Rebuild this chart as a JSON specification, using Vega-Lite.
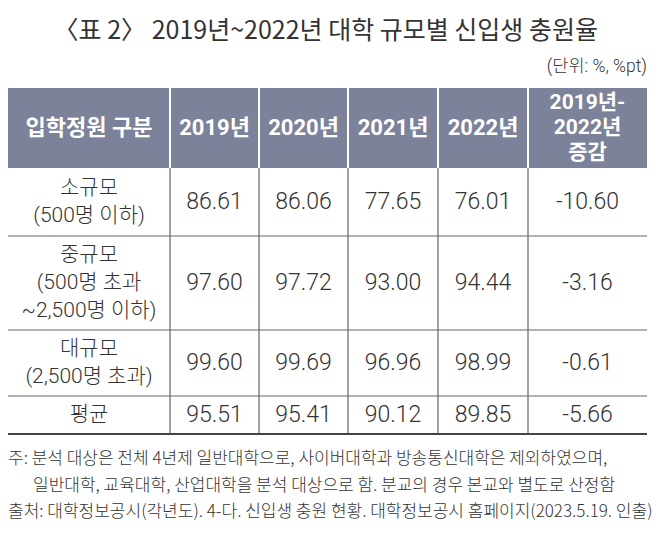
{
  "$schema": "https://vega.github.io/schema/vega-lite/v6.json",
  "width": 658,
  "height": 537,
  "autosize": {"type": "none"},
  "padding": 0,
  "background": "white",
  "config": {
    "view": {"stroke": null},
    "locale": {"number": {"decimal": ".", "thousands": ",", "grouping": [3], "currency": ["", ""], "minus": "-"}}
  },
  "datasets": {
    "frame": [{"part": "table"}],
    "titleText": [{"title": "〈표 2〉 2019년~2022년 대학 규모별 신입생 충원율"}],
    "header": [
      {"c": 0, "label": "입학정원 구분"},
      {"c": 1, "label": "2019년"},
      {"c": 2, "label": "2020년"},
      {"c": 3, "label": "2021년"},
      {"c": 4, "label": "2022년"},
      {"c": 5, "label": "2019년-\n2022년\n증감"}
    ],
    "groups": [
      {"r": 1, "group": "소규모\n(500명 이하)"},
      {"r": 2, "group": "중규모\n(500명 초과\n~2,500명 이하)"},
      {"r": 3, "group": "대규모\n(2,500명 초과)"},
      {"r": 4, "group": "평균"}
    ],
    "values": [
      {"r": 1, "c": 1, "group": "소규모", "year": "2019년", "value": 86.61},
      {"r": 1, "c": 2, "group": "소규모", "year": "2020년", "value": 86.06},
      {"r": 1, "c": 3, "group": "소규모", "year": "2021년", "value": 77.65},
      {"r": 1, "c": 4, "group": "소규모", "year": "2022년", "value": 76.01},
      {"r": 1, "c": 5, "group": "소규모", "year": "증감", "value": -10.60},
      {"r": 2, "c": 1, "group": "중규모", "year": "2019년", "value": 97.60},
      {"r": 2, "c": 2, "group": "중규모", "year": "2020년", "value": 97.72},
      {"r": 2, "c": 3, "group": "중규모", "year": "2021년", "value": 93.00},
      {"r": 2, "c": 4, "group": "중규모", "year": "2022년", "value": 94.44},
      {"r": 2, "c": 5, "group": "중규모", "year": "증감", "value": -3.16},
      {"r": 3, "c": 1, "group": "대규모", "year": "2019년", "value": 99.60},
      {"r": 3, "c": 2, "group": "대규모", "year": "2020년", "value": 99.69},
      {"r": 3, "c": 3, "group": "대규모", "year": "2021년", "value": 96.96},
      {"r": 3, "c": 4, "group": "대규모", "year": "2022년", "value": 98.99},
      {"r": 3, "c": 5, "group": "대규모", "year": "증감", "value": -0.61},
      {"r": 4, "c": 1, "group": "평균", "year": "2019년", "value": 95.51},
      {"r": 4, "c": 2, "group": "평균", "year": "2020년", "value": 95.41},
      {"r": 4, "c": 3, "group": "평균", "year": "2021년", "value": 90.12},
      {"r": 4, "c": 4, "group": "평균", "year": "2022년", "value": 89.85},
      {"r": 4, "c": 5, "group": "평균", "year": "증감", "value": -5.66}
    ],
    "colEdges": [{"e": 0.5}, {"e": 1.5}, {"e": 2.5}, {"e": 3.5}, {"e": 4.5}],
    "rowEdges": [{"e": 1.5}, {"e": 2.5}, {"e": 3.5}],
    "notes": [
      {"line": 5, "note": "주: 분석 대상은 전체 4년제 일반대학으로, 사이버대학과 방송통신대학은 제외하였으며,"},
      {"line": 6, "note": "일반대학, 교육대학, 산업대학을 분석 대상으로 함. 분교의 경우 본교와 별도로 산정함"},
      {"line": 7, "note": "출처: 대학정보공시(각년도). 4-다. 신입생 충원 현황. 대학정보공시 홈페이지(2023.5.19. 인출)"}
    ],
    "unit": [{"unit": "(단위: %, %pt)"}]
  },
  "layer": [
    {
      "data": {"name": "frame"},
      "mark": {"type": "rect", "color": "#7b8299"},
      "encoding": {
        "x": {"datum": -0.5, "type": "quantitative", "axis": null, "scale": {"type": "linear", "zero": false, "nice": false, "domain": [-0.5, 0, 0.5, 1, 1.5, 2, 2.5, 3, 3.5, 4, 4.5, 5, 5.5], "range": [8, 89, 170, 214.5, 259, 303.5, 348, 393, 438, 483, 528, 587.5, 647]}},
        "x2": {"datum": 5.5},
        "y": {"datum": -0.5, "type": "quantitative", "axis": null, "scale": {"type": "linear", "zero": false, "nice": false, "domain": [-2, -1, -0.5, 0, 0.5, 1, 1.5, 2, 2.5, 3, 3.5, 4, 4.5, 5, 6, 7], "range": [31, 67, 88, 128, 168, 202, 236, 283, 330, 363, 396, 415, 434, 459, 486, 512]}},
        "y2": {"datum": 0.5}
      }
    },
    {
      "data": {"name": "colEdges"},
      "mark": {"type": "rule", "color": "white", "strokeWidth": 2},
      "encoding": {
        "x": {"field": "e", "type": "quantitative"},
        "y": {"datum": -0.5, "type": "quantitative"},
        "y2": {"datum": 0.5}
      }
    },
    {
      "data": {"name": "colEdges"},
      "mark": {"type": "rule", "color": "#444444", "strokeWidth": 1},
      "encoding": {
        "x": {"field": "e", "type": "quantitative"},
        "y": {"datum": 0.5, "type": "quantitative"},
        "y2": {"datum": 4.5}
      }
    },
    {
      "data": {"name": "rowEdges"},
      "mark": {"type": "rule", "color": "#666666", "strokeWidth": 1},
      "encoding": {
        "y": {"field": "e", "type": "quantitative"},
        "x": {"datum": -0.5, "type": "quantitative"},
        "x2": {"datum": 5.5}
      }
    },
    {
      "data": {"name": "frame"},
      "mark": {"type": "rule", "color": "#444444", "strokeWidth": 2},
      "encoding": {
        "y": {"datum": 4.5, "type": "quantitative"},
        "x": {"datum": -0.5, "type": "quantitative"},
        "x2": {"datum": 5.5}
      }
    },
    {
      "data": {"name": "titleText"},
      "mark": {"type": "text", "color": "#333333", "font": "Noto Sans CJK KR", "fontSize": 25, "align": "center", "baseline": "middle"},
      "encoding": {
        "x": {"datum": 2.25, "type": "quantitative"},
        "y": {"datum": -2, "type": "quantitative"},
        "text": {"field": "title"}
      }
    },
    {
      "data": {"name": "header"},
      "transform": [{"filter": "datum.c < 5"}],
      "mark": {"type": "text", "color": "white", "font": "Roboto, Noto Sans CJK KR", "fontWeight": "bold", "fontSize": 22, "align": "center", "baseline": "middle"},
      "encoding": {
        "x": {"field": "c", "type": "quantitative"},
        "y": {"datum": 0, "type": "quantitative"},
        "text": {"field": "label"}
      }
    },
    {
      "data": {"name": "header"},
      "transform": [{"filter": "datum.c == 5"}],
      "mark": {"type": "text", "color": "white", "font": "Roboto, Noto Sans CJK KR", "fontWeight": "bold", "fontSize": 21, "lineBreak": "\n", "lineHeight": 25, "dy": -25, "align": "center", "baseline": "middle"},
      "encoding": {
        "x": {"field": "c", "type": "quantitative"},
        "y": {"datum": 0, "type": "quantitative"},
        "text": {"field": "label"}
      }
    },
    {
      "data": {"name": "groups"},
      "transform": [{"filter": "datum.r == 4"}],
      "mark": {"type": "text", "color": "#333333", "font": "Roboto, Noto Sans CJK KR", "fontWeight": 300, "fontSize": 21, "align": "center", "baseline": "middle"},
      "encoding": {
        "x": {"datum": 0, "type": "quantitative"},
        "y": {"field": "r", "type": "quantitative"},
        "text": {"field": "group"}
      }
    },
    {
      "data": {"name": "groups"},
      "transform": [{"filter": "datum.r == 1 || datum.r == 3"}],
      "mark": {"type": "text", "color": "#333333", "font": "Roboto, Noto Sans CJK KR", "fontWeight": 300, "fontSize": 21, "lineBreak": "\n", "lineHeight": 28, "dy": -14, "align": "center", "baseline": "middle"},
      "encoding": {
        "x": {"datum": 0, "type": "quantitative"},
        "y": {"field": "r", "type": "quantitative"},
        "text": {"field": "group"}
      }
    },
    {
      "data": {"name": "groups"},
      "transform": [{"filter": "datum.r == 2"}],
      "mark": {"type": "text", "color": "#333333", "font": "Roboto, Noto Sans CJK KR", "fontWeight": 300, "fontSize": 21, "lineBreak": "\n", "lineHeight": 28, "dy": -28, "align": "center", "baseline": "middle"},
      "encoding": {
        "x": {"datum": 0, "type": "quantitative"},
        "y": {"field": "r", "type": "quantitative"},
        "text": {"field": "group"}
      }
    },
    {
      "data": {"name": "values"},
      "mark": {"type": "text", "color": "#333333", "font": "Roboto", "fontWeight": 300, "fontSize": 23, "align": "center", "baseline": "middle"},
      "encoding": {
        "x": {"field": "c", "type": "quantitative"},
        "y": {"field": "r", "type": "quantitative"},
        "text": {"field": "value", "type": "quantitative", "format": ".2f"}
      }
    },
    {
      "data": {"name": "unit"},
      "mark": {"type": "text", "color": "#333333", "font": "Roboto, Noto Sans CJK KR", "fontWeight": 300, "fontSize": 17.5, "align": "right", "baseline": "middle"},
      "encoding": {
        "x": {"datum": 5.5, "type": "quantitative"},
        "y": {"datum": -1, "type": "quantitative"},
        "text": {"field": "unit"}
      }
    },
    {
      "data": {"name": "notes"},
      "transform": [{"filter": "datum.line != 6"}],
      "mark": {"type": "text", "color": "#333333", "font": "Noto Sans CJK KR", "fontWeight": 300, "fontSize": 17, "align": "left", "baseline": "middle"},
      "encoding": {
        "x": {"datum": -0.5, "type": "quantitative"},
        "y": {"field": "line", "type": "quantitative"},
        "text": {"field": "note"}
      }
    },
    {
      "data": {"name": "notes"},
      "transform": [{"filter": "datum.line == 6"}],
      "mark": {"type": "text", "color": "#333333", "font": "Noto Sans CJK KR", "fontWeight": 300, "fontSize": 17, "align": "left", "baseline": "middle", "dx": 25},
      "encoding": {
        "x": {"datum": -0.5, "type": "quantitative"},
        "y": {"field": "line", "type": "quantitative"},
        "text": {"field": "note"}
      }
    }
  ]
}
